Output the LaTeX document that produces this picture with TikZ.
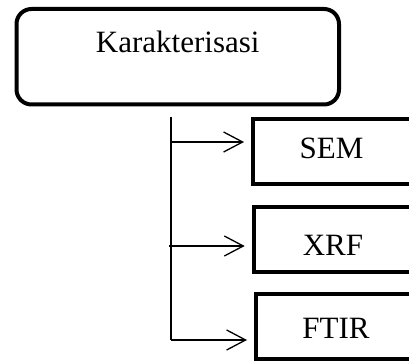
\documentclass[tikz,border=0pt]{standalone}
\usepackage{fontspec}
\setmainfont{Liberation Serif}
\usetikzlibrary{arrows.meta}
\begin{document}
\begin{tikzpicture}[x=1pt,y=-1pt,
  bigtext/.style={font=\fontsize{31}{37}\selectfont, inner sep=0pt, anchor=base},
  mainbox/.style={draw, line width=4pt, rounded corners=15pt,
    minimum width=322.5pt, minimum height=95.5pt, inner sep=0pt},
  methodbox/.style={draw, line width=4pt, minimum width=170pt,
    minimum height=65pt, inner sep=0pt, anchor=west},
  trunk/.style={line width=1.3pt},
  branch/.style={line width=1.3pt, -{Straight Barb[length=19pt,width=20pt,line width=1.3pt]},
    shorten >=7pt}]
\useasboundingbox (0,0) rectangle (409,363);
\fill[white] (0,0) rectangle (409,363);

% heading box and its title
\node[mainbox] (kar) at (177.75,56.75) {};
\node[bigtext] (kartext) at (177.75,53) {Karakterisasi};

% method boxes (they run past the right edge)
\node[methodbox] (sem) at (251,151.2) {};
\node[methodbox] (xrf) at (251.7,239.2) {};
\node[methodbox] (ftir) at (254,326.7) {};
\node[bigtext] (semtext) at (331.5,159) {SEM};
\node[bigtext] (xrftext) at (333,255) {XRF};
\node[bigtext] (ftirtext) at (336,338) {FTIR};

% trunk and branches
\coordinate (top) at (171,117.3);
\coordinate (b1) at (171,142);
\coordinate (b2) at (169,246);
\coordinate (b3) at (171,340);
\draw[trunk] (top) -- (b3);
\draw[branch] (b1) -- (b1 -| sem.west);
\draw[branch] (b2) -- (b2 -| xrf.west);
\draw[branch] (b3) -- (b3 -| ftir.west);
\end{tikzpicture}
\end{document}
